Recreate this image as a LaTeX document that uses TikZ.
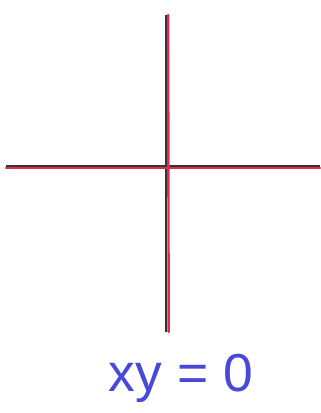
\documentclass[tikz,border=0pt]{standalone}
\usepackage{fontspec}
\setmainfont{Liberation Sans}
\usetikzlibrary{positioning}
\definecolor{penred}{RGB}{228,40,80}
\definecolor{penblue}{RGB}{72,72,218}
\begin{document}
\begin{tikzpicture}[x=0.25mm,y=-0.25mm,
  ink/.style={draw=black!80,line width=0.5mm},
  redpen/.style={draw=penred,line width=0.6mm,line cap=round},
  eqn/.style={text=penblue,font=\fontsize{38}{44}\selectfont,inner sep=0pt}
]
  \useasboundingbox (0,0) rectangle (320,413);
  \coordinate (top) at (167,15);
  \coordinate (bot) at (167,332);
  \coordinate (lft) at (6,167);
  \coordinate (rgt) at (320,167);
  \draw[ink]([xshift=-0.8]top)--([xshift=-0.8]bot);
  \draw[ink]([yshift=0.8]lft)--([yshift=0.8]rgt);
  \draw[redpen]([xshift=0.8]top)--([xshift=1.2]bot);
  \draw[redpen]([yshift=-0.8]lft)--([yshift=-0.8]rgt);
  \node[eqn](eq) at (181,378){xy = 0};
\end{tikzpicture}
\end{document}
